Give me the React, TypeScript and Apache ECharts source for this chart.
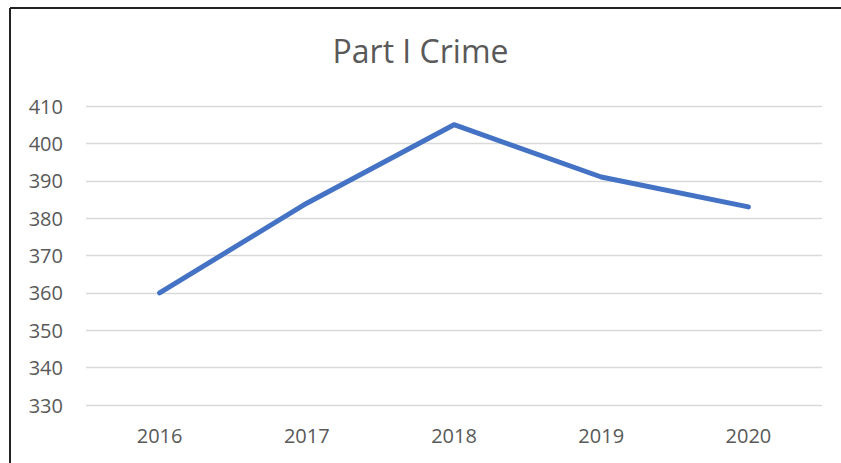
import React, { useEffect, useRef } from "react";
import * as echarts from "echarts";

const categories = ["2016", "2017", "2018", "2019", "2020"];
const values = [360, 384, 405, 391, 383];
const yMin = 330;
const yMax = 410;
const yStep = 10;
const titleText = "Part I Crime";

export default function App() {
  const ref = useRef<HTMLDivElement>(null);
  useEffect(() => {
    if (!ref.current) return;
    const chart = echarts.init(ref.current, null, { renderer: "svg" });
    chart.setOption({
      animation: false,
      backgroundColor: "#ffffff",
      title: {
        text: titleText,
        left: "center",
        top: 29,
        textStyle: { fontFamily: "Open Sans", fontSize: 32, fontWeight: "normal", color: "#595959" },
      },
      grid: { left: 86, right: 19, top: 106, bottom: 58 },
      xAxis: {
        type: "category",
        data: categories,
        boundaryGap: true,
        axisLine: { show: false },
        axisTick: { show: false },
        axisLabel: { fontFamily: "Open Sans", fontSize: 20, color: "#595959", margin: 20 },
      },
      yAxis: {
        type: "value",
        min: yMin,
        max: yMax,
        interval: yStep,
        axisLine: { show: false },
        axisTick: { show: false },
        axisLabel: { fontFamily: "Open Sans", fontSize: 20, color: "#595959", margin: 23 },
        splitLine: { lineStyle: { color: "#d9d9d9", width: 1.3 } },
      },
      series: [
        {
          type: "line",
          data: values,
          symbol: "none",
          lineStyle: { color: "#4472c4", width: 5, cap: "round", join: "round" },
        },
      ],
      graphic: [
        { type: "line", shape: { x1: 10, y1: 8, x2: 841, y2: 8 }, style: { stroke: "#222", lineWidth: 2 } },
        { type: "line", shape: { x1: 10, y1: 8, x2: 10, y2: 463 }, style: { stroke: "#222", lineWidth: 2 } },
      ],
    });
    return () => chart.dispose();
  }, []);
  return <div ref={ref} style={{ width: 841, height: 463, position: "absolute", left: 0, top: 0 }} />;
}
